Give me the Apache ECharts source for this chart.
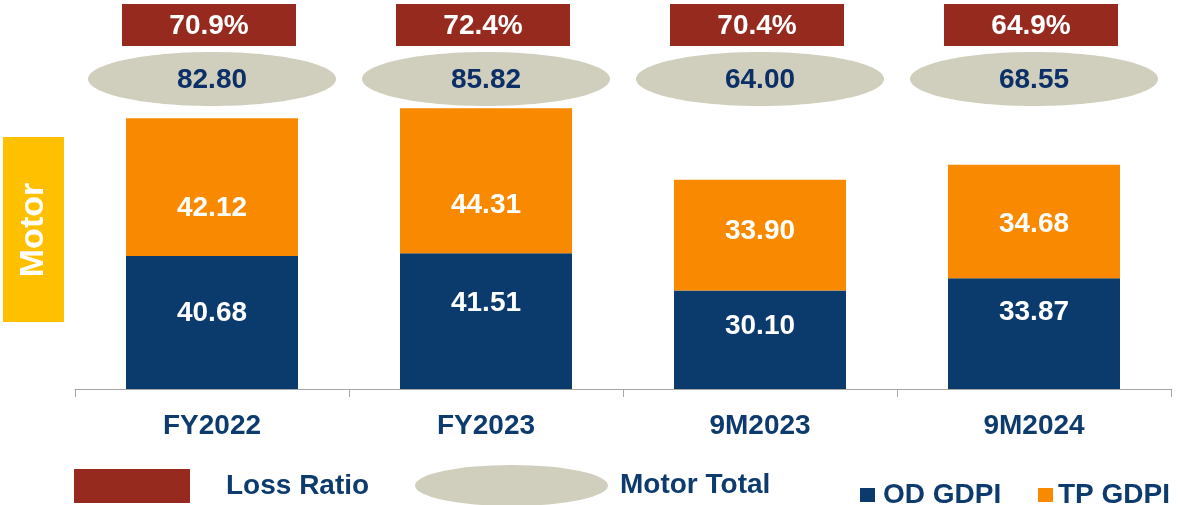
<!DOCTYPE html>
<html>
<head>
<meta charset="utf-8">
<script src="https://cdn.jsdelivr.net/npm/echarts@6/dist/echarts.min.js"></script>
<style>
  html, body { margin: 0; padding: 0; background: #ffffff; }
  #main { width: 1178px; height: 505px; }
</style>
</head>
<body>
<div id="main"></div>
<script>
// chart data
var periods = ["FY2022", "FY2023", "9M2023", "9M2024"];
var odGdpi = [40.68, 41.51, 30.10, 33.87];
var tpGdpi = [42.12, 44.31, 33.90, 34.68];
var motorTotal = [82.80, 85.82, 64.00, 68.55];
var lossRatio = [70.9, 72.4, 70.4, 64.9];

// label nudges (px) to sit where the original slide had them
var odLabelDy = [-9, -18, -14, -21];
var tpLabelDy = [21, 24, -4, 3];

var FONT = "'Liberation Sans', Arial, sans-serif";
var NAVY = "#0d3b6e";

var chart = echarts.init(document.getElementById("main"));

// red boxes with loss ratio, fixed band near top
function renderLossBox(params, api) {
  var x = api.coord([api.value(0), 0])[0] - 3;
  return {
    type: "group",
    children: [
      {
        type: "rect",
        shape: { x: x - 87, y: 4, width: 174, height: 42 },
        style: { fill: "#962a1f" }
      },
      {
        type: "text",
        style: {
          text: api.value(1).toFixed(1) + "%",
          x: x,
          y: 26,
          align: "center",
          verticalAlign: "middle",
          fill: "#ffffff",
          font: "bold 28px " + FONT
        }
      }
    ]
  };
}

// grey ellipses with motor total
function renderTotalEllipse(params, api) {
  var x = api.coord([api.value(0), 0])[0];
  return {
    type: "group",
    children: [
      {
        type: "ellipse",
        shape: { cx: x, cy: 79, rx: 124, ry: 27 },
        style: { fill: "#d0cfbd" }
      },
      {
        type: "text",
        style: {
          text: api.value(1).toFixed(2),
          x: x,
          y: 80,
          align: "center",
          verticalAlign: "middle",
          fill: "#0b2f66",
          font: "bold 28px " + FONT
        }
      }
    ]
  };
}

function barLabel(dy) {
  return {
    show: true,
    position: "inside",
    offset: [0, dy],
    formatter: function (p) { return p.value.toFixed(2); },
    color: "#ffffff",
    fontSize: 28,
    fontWeight: "bold",
    fontFamily: FONT
  };
}

var ellipseIcon = "path://M0,20.5 A96.5,20.5 0 1,1 193,20.5 A96.5,20.5 0 1,1 0,20.5 Z";
var legendText = { color: NAVY, fontSize: 28, fontWeight: "bold", fontFamily: FONT };

chart.setOption({
  backgroundColor: "#ffffff",
  animation: false,
  grid: { left: 75, right: 7, top: 62, bottom: 116 },
  legend: [
    {
      left: 74, top: 469, padding: 0, itemWidth: 116, itemHeight: 34,
      data: [{ name: "Loss Ratio", icon: "rect" }],
      textStyle: Object.assign({ padding: [6, 0, 0, 31] }, legendText)
    },
    {
      left: 415, top: 465, padding: 0, itemWidth: 193, itemHeight: 41,
      data: [{ name: "Motor Total", icon: ellipseIcon }],
      textStyle: Object.assign({ padding: [7, 0, 0, 7] }, legendText)
    },
    {
      left: 860, top: 481, padding: 0, itemWidth: 15, itemHeight: 14,
      data: [{ name: "OD GDPI", icon: "rect" }],
      textStyle: Object.assign({ padding: [0, 0, 8, 3] }, legendText)
    },
    {
      left: 1038, top: 481, padding: 0, itemWidth: 15, itemHeight: 14,
      data: [{ name: "TP GDPI", icon: "rect" }],
      textStyle: Object.assign({ padding: [0, 0, 8, 0] }, legendText)
    }
  ],
  xAxis: {
    type: "category",
    data: periods,
    axisLine: { lineStyle: { color: "#a6a6a6", width: 1 } },
    axisTick: { show: true, length: 8, lineStyle: { color: "#a6a6a6" } },
    axisLabel: {
      margin: 23,
      color: NAVY,
      fontSize: 28,
      fontWeight: "bold",
      fontFamily: FONT
    }
  },
  yAxis: {
    type: "value",
    min: 0,
    max: 100,
    show: false,
    splitLine: { show: false }
  },
  series: [
    {
      name: "OD GDPI",
      type: "bar",
      stack: "motor",
      barWidth: 172,
      data: odGdpi.map(function (v, i) {
        return { value: v, label: { offset: [0, odLabelDy[i]] } };
      }),
      itemStyle: { color: "#0a3b6c" },
      label: barLabel(0)
    },
    {
      name: "TP GDPI",
      type: "bar",
      stack: "motor",
      barWidth: 172,
      data: tpGdpi.map(function (v, i) {
        return { value: v, label: { offset: [0, tpLabelDy[i]] } };
      }),
      itemStyle: { color: "#f98a00" },
      label: barLabel(0)
    },
    {
      name: "Motor Total",
      type: "custom",
      renderItem: renderTotalEllipse,
      itemStyle: { color: "#d0cfbd" },
      encode: { x: 0, y: 1 },
      data: motorTotal.map(function (v, i) { return [i, v]; }),
      z: 5
    },
    {
      name: "Loss Ratio",
      type: "custom",
      renderItem: renderLossBox,
      itemStyle: { color: "#962a1f" },
      encode: { x: 0, y: 1 },
      data: lossRatio.map(function (v, i) { return [i, v]; }),
      z: 5
    }
  ],
  graphic: [
    {
      type: "rect",
      left: 3,
      top: 137,
      shape: { width: 61, height: 185 },
      style: { fill: "#ffc000" }
    },
    {
      type: "text",
      x: 34,
      y: 230,
      rotation: Math.PI / 2,
      style: {
        text: "Motor",
        align: "center",
        verticalAlign: "middle",
        fill: "#ffffff",
        font: "bold 34px " + FONT
      }
    }
  ]
});

window.onresize = function () {
  chart.resize();
};
</script>
</body>
</html>
